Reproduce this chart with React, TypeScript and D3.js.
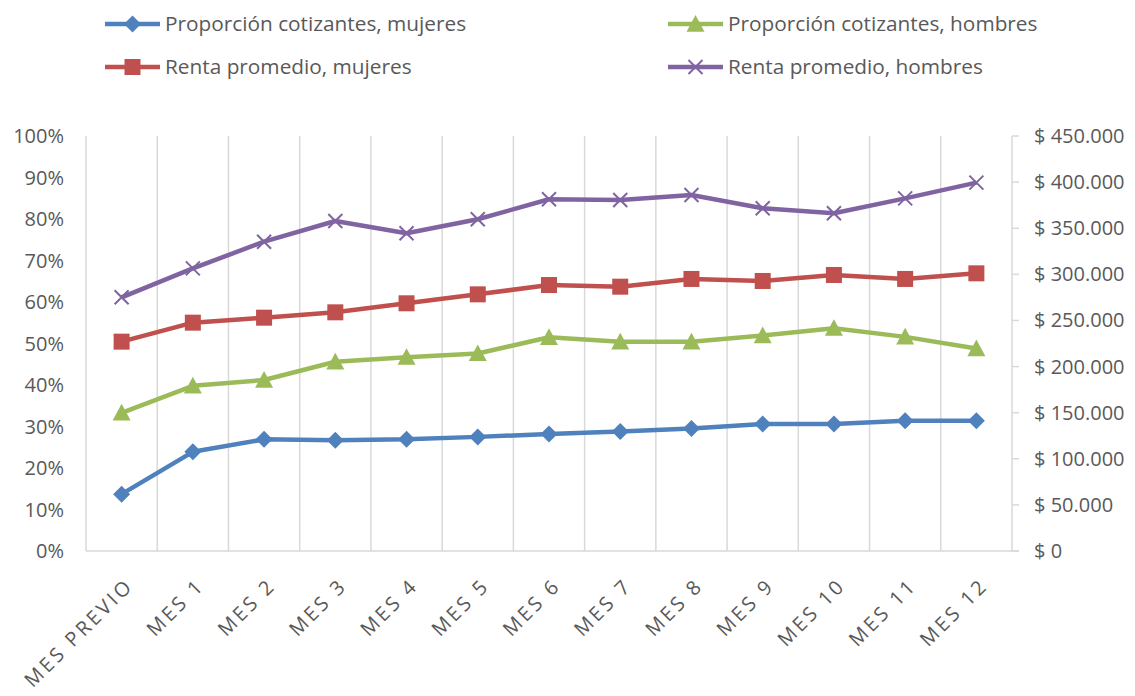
import React from "react";
import * as d3 from "d3";

const categories = ["MES PREVIO", "MES 1", "MES 2", "MES 3", "MES 4", "MES 5", "MES 6", "MES 7", "MES 8", "MES 9", "MES 10", "MES 11", "MES 12"];
const propMujeres = [0.137, 0.239, 0.269, 0.267, 0.269, 0.275, 0.282, 0.288, 0.295, 0.306, 0.306, 0.314, 0.314];
const propHombres = [0.333, 0.398, 0.412, 0.456, 0.467, 0.476, 0.515, 0.504, 0.504, 0.519, 0.537, 0.516, 0.488];
const rentaMujeres = [227000, 247600, 253000, 258800, 268600, 278300, 288400, 286600, 295000, 292800, 299300, 295000, 301100];
const rentaHombres = [275100, 306500, 335400, 357800, 344500, 359700, 381400, 380600, 386000, 371600, 366200, 382400, 399400];
const leftTicks = [0, 0.1, 0.2, 0.3, 0.4, 0.5, 0.6, 0.7, 0.8, 0.9, 1.0];
const rightTicks = [0, 50000, 100000, 150000, 200000, 250000, 300000, 350000, 400000, 450000];
const seriesNames = ["Proporción cotizantes, mujeres", "Proporción cotizantes, hombres", "Renta promedio, mujeres", "Renta promedio, hombres"];

const W = 1135, H = 696;
const L = 86, R = 1012, T = 136, B = 551;
const FONT = "'Open Sans', Lato, sans-serif";
const TEXT = "#595959";
const GRID = "#D9D9D9";
const COLORS = { blue: "#4F81BD", red: "#C0504D", green: "#9BBB59", purple: "#8064A2" };

type MarkerKind = "diamond" | "square" | "triangle" | "x";

function Marker({ kind, x, y, color }: { kind: MarkerKind; x: number; y: number; color: string }) {
  if (kind === "diamond") {
    const s = 8.5;
    return <path d={`M${x},${y - s}L${x + s},${y}L${x},${y + s}L${x - s},${y}Z`} fill={color} />;
  }
  if (kind === "square") {
    const s = 8;
    return <rect x={x - s} y={y - s} width={2 * s} height={2 * s} fill={color} />;
  }
  if (kind === "triangle") {
    const s = 9;
    return <path d={`M${x},${y - s}L${x + s},${y + s * 0.85}L${x - s},${y + s * 0.85}Z`} fill={color} />;
  }
  const s = 7;
  return <path d={`M${x - s},${y - s}L${x + s},${y + s}M${x - s},${y + s}L${x + s},${y - s}`} stroke={color} strokeWidth={2} fill="none" />;
}

export default function App() {
  const x = d3.scaleBand<string>().domain(categories).range([L, R]);
  const cx = (c: string) => (x(c) as number) + x.bandwidth() / 2;
  const yL = d3.scaleLinear().domain([0, 1]).range([B, T]);
  const yR = d3.scaleLinear().domain([0, 450000]).range([B, T]);

  const series: { name: string; values: number[]; scale: d3.ScaleLinear<number, number>; color: string; kind: MarkerKind }[] = [
    { name: seriesNames[0], values: propMujeres, scale: yL, color: COLORS.blue, kind: "diamond" },
    { name: seriesNames[1], values: propHombres, scale: yL, color: COLORS.green, kind: "triangle" },
    { name: seriesNames[2], values: rentaMujeres, scale: yR, color: COLORS.red, kind: "square" },
    { name: seriesNames[3], values: rentaHombres, scale: yR, color: COLORS.purple, kind: "x" },
  ];

  const line = (vals: number[], s: d3.ScaleLinear<number, number>) =>
    d3.line<number>().x((_, i) => cx(categories[i])).y((v) => s(v))(vals) || "";

  const fmtPct = (v: number) => `${Math.round(v * 100)}%`;
  const fmtMoney = (v: number) => (v === 0 ? "$ 0" : "$ " + d3.format(",")(v).replace(/,/g, "."));

  const legendPos = [
    { x: 105, y: 24 },
    { x: 668, y: 24 },
    { x: 105, y: 67 },
    { x: 668, y: 67 },
  ];

  const gridXs = categories.slice(1).map((c) => x(c) as number);

  return (
    <div style={{ position: "absolute", left: 0, top: 0 }}>
      <svg width={W} height={H} style={{ display: "block", background: "#fff" }}>
        {/* vertical gridlines */}
        {gridXs.map((gx, i) => (
          <line key={i} x1={gx} x2={gx} y1={T} y2={B} stroke={GRID} strokeWidth={1.5} />
        ))}
        {/* axes */}
        <line x1={L} x2={L} y1={T} y2={B} stroke={GRID} strokeWidth={1.5} />
        <line x1={R} x2={R} y1={T} y2={B} stroke={GRID} strokeWidth={1.5} />
        <line x1={L} x2={R + 7} y1={B} y2={B} stroke={GRID} strokeWidth={1.5} />
        {rightTicks.map((t) => (
          <line key={t} x1={R} x2={R + 7} y1={yR(t)} y2={yR(t)} stroke={GRID} strokeWidth={1.5} />
        ))}
        {/* left tick labels */}
        {leftTicks.map((t) => (
          <text key={t} x={64} y={yL(t)} dy="0.35em" textAnchor="end" fontFamily={FONT} fontSize={20} fill={TEXT}>
            {fmtPct(t)}
          </text>
        ))}
        {/* right tick labels */}
        {rightTicks.map((t) => (
          <text key={t} x={1034} y={yR(t)} dy="0.35em" textAnchor="start" fontFamily={FONT} fontSize={20} fill={TEXT}>
            {fmtMoney(t)}
          </text>
        ))}
        {/* category labels */}
        {categories.map((c) => (
          <text
            key={c}
            transform={`translate(${cx(c) + 3},${577}) rotate(-45)`}
            textAnchor="end"
            dy="0.7em"
            fontFamily={FONT}
            fontSize={20}
            letterSpacing={3}
            fill={TEXT}
          >
            {c}
          </text>
        ))}
        {/* series */}
        {series.map((s) => (
          <g key={s.name}>
            <path d={line(s.values, s.scale)} fill="none" stroke={s.color} strokeWidth={4.5} strokeLinejoin="round" />
            {s.values.map((v, i) => (
              <Marker key={i} kind={s.kind} x={cx(categories[i])} y={s.scale(v)} color={s.color} />
            ))}
          </g>
        ))}
        {/* legend */}
        {series.map((s, i) => (
          <g key={s.name}>
            <line x1={legendPos[i].x} x2={legendPos[i].x + 55} y1={legendPos[i].y} y2={legendPos[i].y} stroke={s.color} strokeWidth={4.5} />
            <Marker kind={s.kind} x={legendPos[i].x + 27.5} y={legendPos[i].y} color={s.color} />
            <text x={legendPos[i].x + 60} y={legendPos[i].y} dy="0.35em" fontFamily={FONT} fontSize={20.8} fill={TEXT}>
              {s.name}
            </text>
          </g>
        ))}
      </svg>
    </div>
  );
}
